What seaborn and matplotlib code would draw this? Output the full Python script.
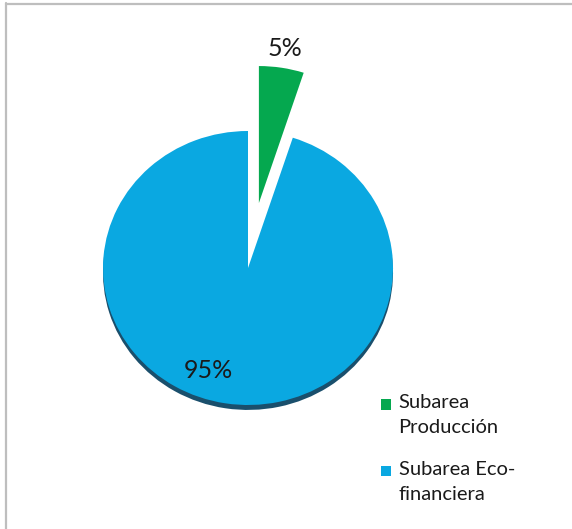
import matplotlib
matplotlib.use("Agg")
import matplotlib.pyplot as plt
import seaborn as sns
from matplotlib.patches import Rectangle, Shadow
from matplotlib.legend_handler import HandlerPatch
from matplotlib.lines import Line2D

categories = ["Subarea\nProducción", "Subarea Eco-\nfinanciera"]
values = [5, 95]
colors = ["#05A84F", "#0AA8E1"]
explode = [0.48, 0.0]

sns.set_style("white")
plt.rcParams["font.family"] = ["Lato", "DejaVu Sans"]

fig = plt.figure(figsize=(5.72, 5.29), dpi=100)
fig.patch.set_facecolor("white")

W, H = 572, 529
cx, cy, rx, ry = 248, 268, 145, 137
left = (cx - 1.25 * rx) / W
bottom = (H - (cy + 1.25 * ry)) / H
ax = fig.add_axes([left, bottom, 2.5 * rx / W, 2.5 * ry / H])

wedges, texts, autotexts = ax.pie(
    values, colors=colors, explode=explode, startangle=90, counterclock=False,
    autopct="%1.0f%%", pctdistance=1.14, labels=None,
    textprops=dict(fontsize=18, color="#1a1a1a"),
    wedgeprops=dict(linewidth=0),
)
ax.set_xlim(-1.25, 1.25)
ax.set_ylim(-1.25, 1.25)
ax.set_aspect("auto")

# reposition the big label
autotexts[1].set_position((-0.276, -0.75))

# bottom shadow rim for the big slice
sh = Shadow(wedges[1], 0, -0.026)
sh.set_facecolor("#1A4F6C")
sh.set_alpha(1)
sh.set_zorder(wedges[1].get_zorder() - 0.5)
ax.add_patch(sh)

def top_square(legend, orig_handle, xdescent, ydescent, width, height, fontsize):
    s = 0.52 * fontsize
    return Rectangle((-xdescent, -ydescent + height - s - 0.12 * fontsize), s, s)

hmap = {w: HandlerPatch(patch_func=top_square) for w in wedges}
leg = fig.legend(
    wedges, categories, loc="upper left",
    bbox_to_anchor=(381 / W, 1 - 394 / H), bbox_transform=fig.transFigure,
    frameon=False, fontsize=14.5, handlelength=0.52, handleheight=2.6,
    handletextpad=0.35, labelspacing=1.22, borderpad=0, borderaxespad=0,
    handler_map=hmap,
)
for t in leg.get_texts():
    t.set_color("#1a1a1a")
    t.set_linespacing(1.6)

# chart border lines (left and top)
fig.add_artist(Line2D([5.5 / W, 5.5 / W], [0, 1 - 3 / H], transform=fig.transFigure,
                      color="#BEBEBE", linewidth=1.6))
fig.add_artist(Line2D([5.5 / W, 1], [1 - 3.5 / H, 1 - 3.5 / H], transform=fig.transFigure,
                      color="#BEBEBE", linewidth=1.6))

fig.savefig("out.png", dpi=100, facecolor="white")
